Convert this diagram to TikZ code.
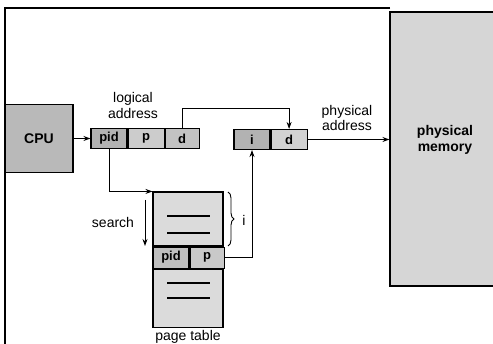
\documentclass[tikz,border=0pt]{standalone}
\usepackage{fontspec}
\setmainfont{Liberation Sans}
\usetikzlibrary{arrows.meta,positioning,decorations.pathreplacing}

\begin{document}
\begin{tikzpicture}[
  x=1pt, y=-1pt,
  box/.style={rectangle, draw, line width=1.1pt, inner sep=0pt},
  cell/.style={box, minimum height=20, font=\fontsize{13}{14}\selectfont\bfseries},
  txt/.style={font=\fontsize{14}{16}\selectfont, align=center, inner sep=0pt},
  arr/.style={-{Stealth[length=7pt, width=5pt]}, line width=0.9pt},
  rule/.style={line width=1.1pt}
]
\useasboundingbox (0,0) rectangle (493,344);
% ── frame ───────────────────────────
\draw[line width=1.2pt] (390,8) -- (5,8) -- (5,344);
% ── cpu and logical address ─────────
\node[box, fill=gray!55, minimum width=68, minimum height=68,
      font=\fontsize{14}{16}\selectfont\bfseries] (cpu) at (39,138.5) {CPU};
\node[cell, fill=gray!60, minimum width=36] (pid) at (109,138.5) {pid};
\node[cell, fill=gray!40, minimum width=36, right=0pt of pid] (p) {p};
\node[cell, fill=gray!48, minimum width=34, right=0pt of p] (d) {d};
\node[txt] (logical) at (133,105) {logical\\address};
% ── physical address ────────────────
\node[cell, fill=gray!60, minimum width=36] (fi) at (252,139.5) {i};
\node[cell, fill=gray!35, minimum width=36, right=0pt of fi] (fd) {d};
\node[txt] (physical) at (347,118) {physical\\address};
% ── physical memory ─────────────────
\node[box, fill=gray!32, minimum width=110, minimum height=274,
      label={[txt, font=\fontsize{14}{16}\selectfont\bfseries, yshift=9]center:physical\\memory}]
  (mem) at (445,149) {};
% ── page table ──────────────────────
\node[box, fill=gray!28, minimum width=70, minimum height=54] (upper) at (188,219) {};
\node[cell, fill=gray!50, minimum width=36, minimum height=21,
      below right=0pt and 0pt of upper.south west, anchor=north west] (tpid) {pid};
\node[cell, fill=gray!42, minimum width=34, minimum height=21, right=0pt of tpid] (tp) {p};
\node[box, fill=gray!28, minimum width=70, minimum height=58,
      anchor=north west] (lower) at (tpid.south west) {};
\foreach \y in {216,233,283,298}
  \draw[rule] (167,\y) -- (210,\y);
\node[font=\fontsize{14}{16}\selectfont] (pagetable) at (188,337) {page table};
\draw[line width=0.9pt, decorate, decoration={brace, amplitude=6pt}]
  (228,192) -- (228,246);
\node[font=\fontsize{14}{16}\selectfont] (ilabel) at (244,220) {i};
% ── search ──────────────────────────
\node[font=\fontsize{14}{16}\selectfont] (search) at (113,222) {search};
\coordinate (s1) at (145,200);
\coordinate (s2) at (145,246);
\draw[arr] (s1) -- (s2);
% ── arrows ──────────────────────────
\draw[arr] (cpu) -- (pid);
\draw[arr] (d.north) -- ++(0,-19) -| (fd.north);
\draw[arr] (pid.south) |- (upper.north west);
\draw[arr] (tp.east) -| (fi.south);
\draw[arr] (fd.east) -- (fd.east -| mem.west);
\end{tikzpicture}
\end{document}
